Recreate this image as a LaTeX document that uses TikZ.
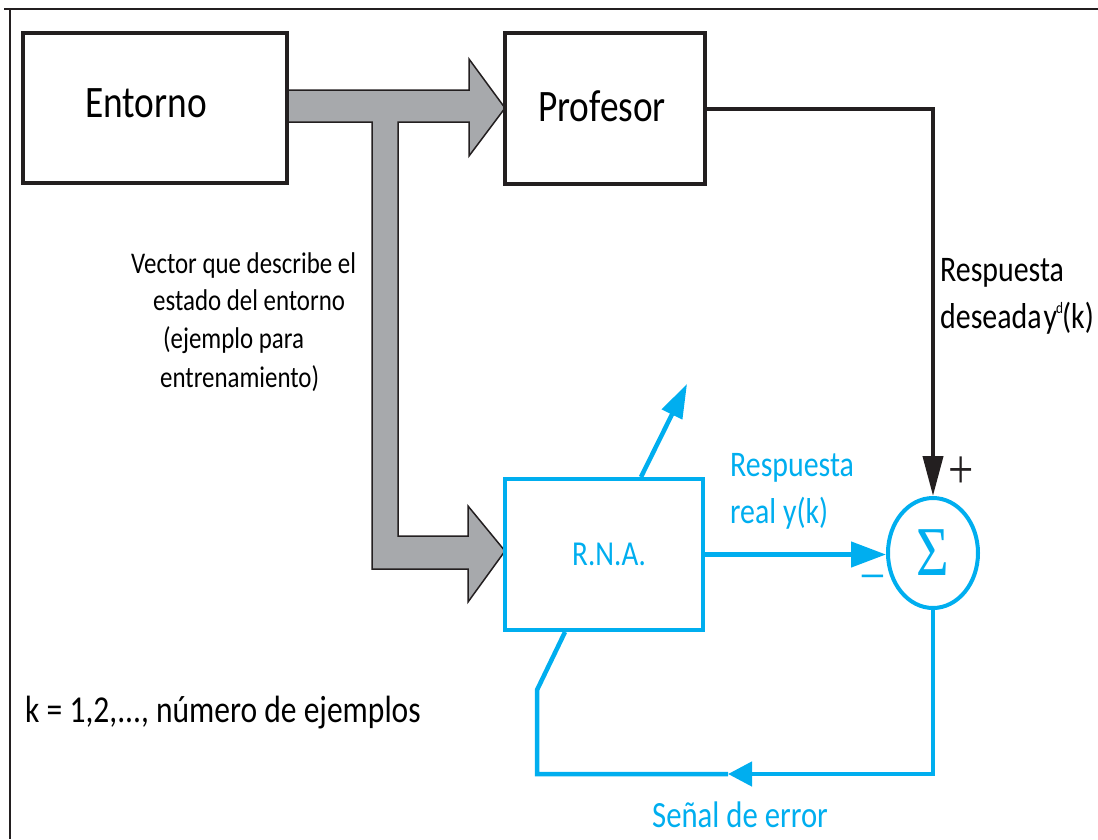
\documentclass[tikz,border=0pt]{standalone}
\usepackage{fontspec}
\setmainfont{Carlito}[FakeStretch=0.83]
\newfontfamily\sigmafont{Liberation Serif}[FakeStretch=0.8]
\usetikzlibrary{arrows.meta,shapes.geometric}
\definecolor{cyanb}{HTML}{00AEEF}
\definecolor{darkk}{HTML}{231F20}
\definecolor{grayf}{HTML}{A7A9AC}
\begin{document}
\begin{tikzpicture}[x=1pt,y=-1pt,
  blackbox/.style={draw=darkk,line width=4pt,inner sep=0pt},
  cyanbox/.style={draw=cyanb,line width=4pt,inner sep=0pt},
  cline/.style={draw=cyanb,line width=4.5pt},
  btext/.style={anchor=base west,inner sep=0pt,text=black},
  ctext/.style={anchor=base west,inner sep=0pt,text=cyanb},
  fs/.style={font=\fontsize{#1}{#1}\selectfont}]
\useasboundingbox (0,0) rectangle (1098,839);
% frame
\draw[darkk,line width=1.5pt] (4,9) -- (1098,9);
\draw[darkk,line width=1.5pt] (10,9) -- (10,839);
% gray block arrow
\fill[grayf,draw=darkk,line width=1.5pt,line join=miter]
  (287,90) -- (469,90) -- (469,59) -- (505,108) -- (469,156) -- (469,122)
  -- (398,122) -- (398,536) -- (468,536) -- (468,506) -- (505,551)
  -- (468,602) -- (468,569) -- (372,569) -- (372,122) -- (287,122) -- cycle;
% boxes
\node[blackbox,minimum width=264pt,minimum height=150pt] (ent) at (155,108) {};
\node[blackbox,minimum width=200pt,minimum height=151pt] (prof) at (605,108.5) {};
\node[cyanbox,minimum width=198pt,minimum height=151pt] (rna) at (604,554.5) {};
\node[cyanbox,ellipse,minimum width=90pt,minimum height=110pt,text=cyanb,
  font=\sigmafont\fontsize{70}{70}\selectfont] (sum) at (933,553) {\raisebox{-3pt}{Σ}};
% texts
\node[btext,fs=45] (entT) at (85,117) {Entorno};
\node[btext,fs=45] (profT) at (538,121) {Profesor};
\node[ctext,fs=35] (rnaT) at (572,565) {R.N.A.};
\node[btext,fs=30] (v1) at (131,273) {Vector que describe el};
\node[btext,fs=30] (v2) at (153,310) {estado del entorno};
\node[btext,fs=30] (v3) at (163,348) {(ejemplo para};
\node[btext,fs=30] (v4) at (160,387) {entrenamiento)};
\node[btext,fs=36] (d1) at (940,281) {Respuesta};
\node[btext,fs=36] (d2) at (940,328) {deseada\hspace{2pt}y\hspace{-1pt}\raisebox{15pt}{\fontsize{16}{16}\selectfont d}\hspace{-1pt}(k)};
\node[ctext,fs=36] (r1) at (730,476) {Respuesta};
\node[ctext,fs=36] (r2) at (730,523) {real y(k)};
\node[ctext,fs=37] (err) at (652,827) {Señal de error};
\node[btext,fs=38] (kk) at (25,722) {k = 1,2,..., número de ejemplos};
\node[text=darkk,inner sep=0pt,font=\sigmafont\fontsize{56}{56}\selectfont] (plus) at (961,473) {+};
\node[text=cyanb,inner sep=0pt,font=\sigmafont\fontsize{52}{52}\selectfont] (minus) at (873,582) {–};
% connectors
\draw[darkk,line width=4pt,-{Triangle[length=40pt,width=20pt]}] (prof.east) -| (sum.north);
\draw[cline,-{Triangle[length=35pt,width=25pt]}] (rna.east) -- (rna.east -| sum.west);
\coordinate (adjT) at (687,384);
\draw[cline,-{Triangle[length=34pt,width=22pt]}] ([xshift=37pt]rna.north) -- (adjT);
\coordinate (fbA) at (728,774);
\coordinate (fbB) at (537,774);
\coordinate (fbC) at (537,690);
\draw[cline,-{Triangle[length=24pt,width=24pt]}] (sum.south) |- (fbA);
\draw[cline,line join=miter] (fbA) -- (fbB) -- (fbC) -- ([xshift=62pt]rna.south west);
\end{tikzpicture}
\end{document}
